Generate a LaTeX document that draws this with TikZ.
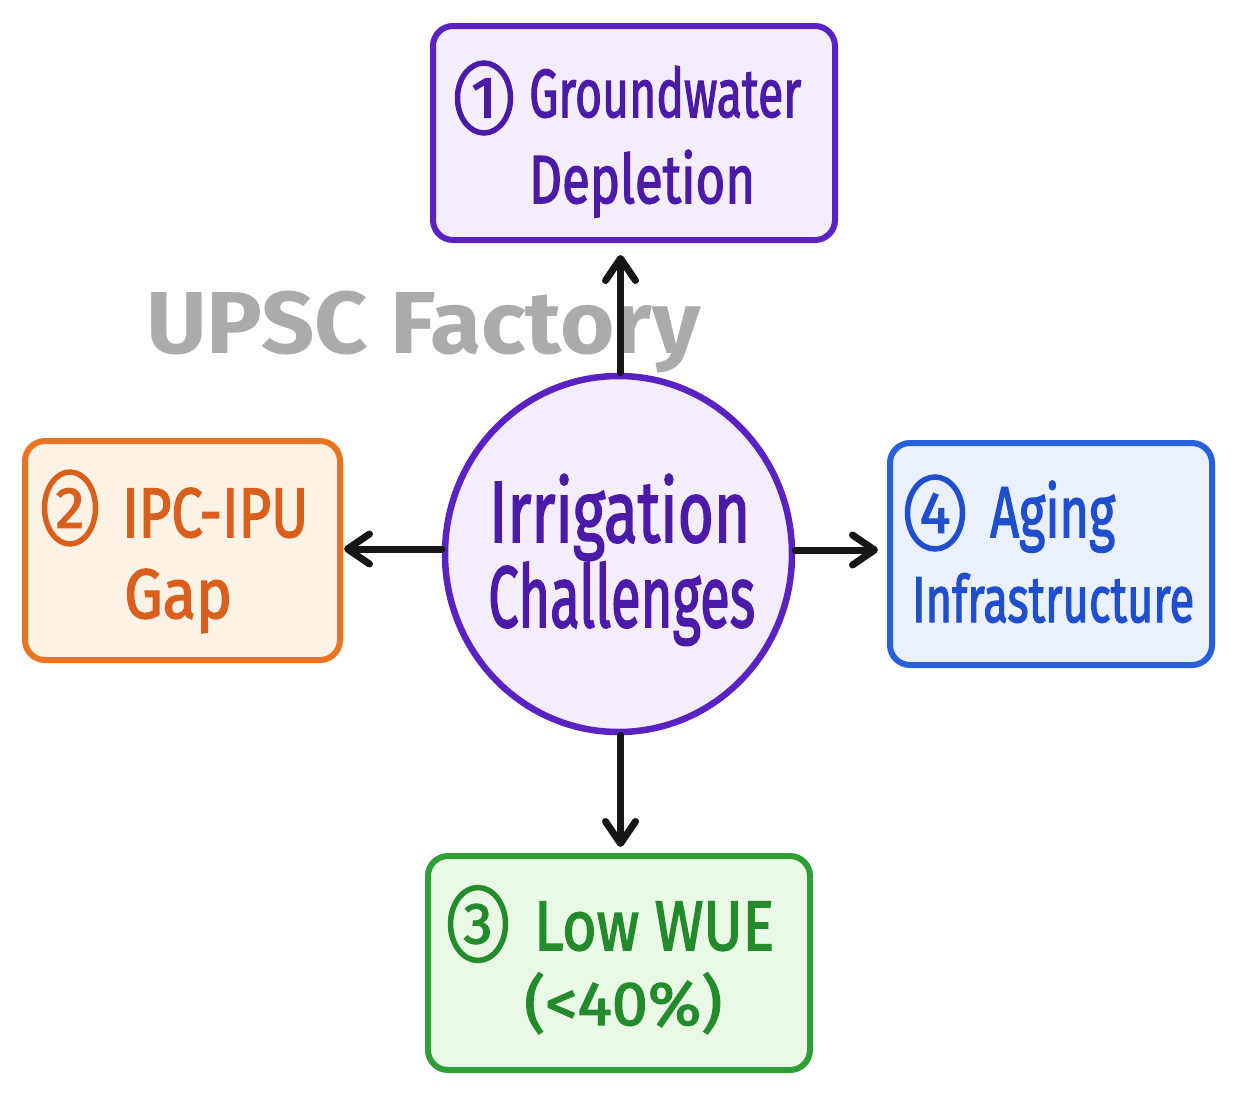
\documentclass[tikz,border=0pt]{standalone}
\usepackage{fontspec}
\usepackage{graphicx}
\setmainfont{Fira Sans}
\newfontfamily\handfont{Fira Sans}[FakeBold=2.2]
\usetikzlibrary{arrows.meta,shapes.geometric}
\definecolor{pB}{HTML}{5A22C2}
\definecolor{pF}{HTML}{F4EEFC}
\definecolor{pT}{HTML}{4B1AA8}
\definecolor{oB}{HTML}{EA7421}
\definecolor{oF}{HTML}{FDF2E6}
\definecolor{oT}{HTML}{DB5F1C}
\definecolor{bB}{HTML}{2760D8}
\definecolor{bF}{HTML}{EAF0FC}
\definecolor{bT}{HTML}{1F4FCF}
\definecolor{gB}{HTML}{2E9E36}
\definecolor{gF}{HTML}{EAF8E6}
\definecolor{gT}{HTML}{238B2C}
\definecolor{wmc}{HTML}{ABABAB}
\definecolor{arc}{HTML}{161616}
\newcommand\fitw[2]{\resizebox{#1pt}{\height}{#2}}
\tikzset{
  boxnode/.style={rectangle, rounded corners=20pt, line width=6pt, inner sep=0pt},
  numnode/.style={ellipse, line width=5.5pt, inner sep=0pt, font=\fontsize{58}{58}\handfont\bfseries},
  txtnode/.style={anchor=base west, inner sep=0pt},
  arr/.style={draw=arc, line width=7pt, line cap=round,
    -{Straight Barb[length=22pt, width=30pt, line cap=round, line join=round]}}
}
\begin{document}
\begin{tikzpicture}[x=1pt,y=-1pt]
\useasboundingbox[fill=white] (0,0) rectangle (1235,1095);

% watermark
\node[txtnode, text=wmc, font=\fontsize{88}{88}\selectfont\bfseries] (wm) at (146,353) {\fitw{554}{UPSC Factory}};

% boxes
\node[boxnode, draw=pB, fill=pF, minimum width=402pt, minimum height=214pt] (b1) at (634,133) {};
\node[boxnode, draw=oB, fill=oF, minimum width=315pt, minimum height=219pt] (b2) at (182.5,550.5) {};
\node[boxnode, draw=bB, fill=bF, minimum width=322pt, minimum height=222pt] (b4) at (1051,554) {};
\node[boxnode, draw=gB, fill=gF, minimum width=382pt, minimum height=214pt] (b3) at (619,963) {};

% centre
\node[ellipse, draw=pB, fill=pF, line width=6.5pt, minimum width=347pt, minimum height=356pt, inner sep=0pt] (c) at (618.5,554) {};

% numbers
\node[numnode, draw=pT, text=pT, minimum width=53pt, minimum height=70pt, font=\fontsize{58}{58}\handfont] (n1) at (484,98) {1};
\node[numnode, draw=oT, text=oT, minimum width=51pt, minimum height=72pt, font=\fontsize{58}{58}\handfont] (n2) at (70,508) {2};
\node[numnode, draw=gT, text=gT, minimum width=55pt, minimum height=73pt, font=\fontsize{58}{58}\handfont] (n3) at (478,924) {3};
\node[numnode, draw=bT, text=bT, minimum width=55pt, minimum height=72pt, font=\fontsize{58}{58}\handfont] (n4) at (935,513) {4};

% texts
\node[txtnode, text=pT, font=\fontsize{68}{68}\handfont] (t1a) at (529,117) {\fitw{272}{Groundwater}};
\node[txtnode, text=pT, font=\fontsize{68}{68}\handfont] (t1b) at (529,203) {\fitw{226}{Depletion}};

\node[txtnode, text=oT, font=\fontsize{70}{70}\handfont] (t2a) at (122,537) {\fitw{186}{IPC-IPU}};
\node[txtnode, text=oT, font=\fontsize{70}{70}\handfont] (t2b) at (124,618) {\fitw{108}{Gap}};

\node[txtnode, text=bT, font=\fontsize{72}{72}\handfont] (t4a) at (990,537) {\fitw{125}{Aging}};
\node[txtnode, text=bT, font=\fontsize{65}{65}\handfont] (t4b) at (912,622) {\fitw{282}{Infrastructure}};

\node[txtnode, text=gT, font=\fontsize{70}{70}\handfont] (t3a) at (534,950) {\fitw{240}{Low WUE}};
\node[txtnode, text=gT, font=\fontsize{62}{62}\handfont] (t3b) at (524,1025) {\fitw{198}{(<40\%)}};

\node[txtnode, text=pT, font=\fontsize{87}{87}\handfont] (ca) at (489,542) {\fitw{261}{Irrigation}};
\node[txtnode, text=pT, font=\fontsize{87}{87}\handfont] (cb) at (488,627) {\fitw{267}{Challenges}};

% arrows
\draw[arr, shorten >=12pt] ([xshift=2pt]c.north) -- ([xshift=2pt]c.north |- b1.south);
\draw[arr, shorten >=1pt] ([yshift=5pt]c.west) -- ([yshift=5pt]c.west -| b2.east);
\draw[arr, shorten >=9pt] ([yshift=4pt]c.east) -- ([yshift=4pt]c.east -| b4.west);
\draw[arr, shorten >=6pt] ([xshift=2pt]c.south) -- ([xshift=2pt]c.south |- b3.north);
\end{tikzpicture}
\end{document}
